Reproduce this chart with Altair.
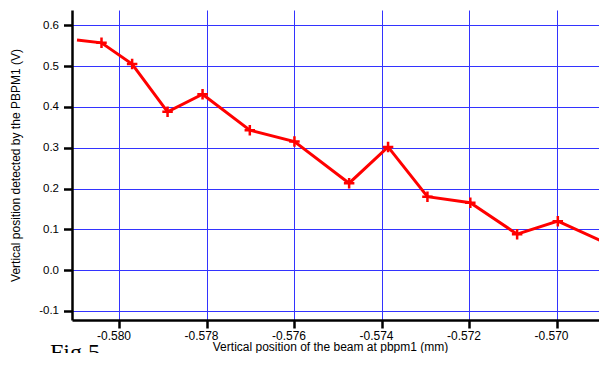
import altair as alt
import pandas as pd

# Data
x_vals = [-0.58096, -0.58040, -0.57970, -0.57889, -0.57809, -0.57701, -0.57599,
          -0.57474, -0.57385, -0.57295, -0.57197, -0.57090, -0.56997, -0.56890]
y_vals = [0.564, 0.557, 0.505, 0.388, 0.431, 0.343, 0.315,
          0.213, 0.302, 0.180, 0.165, 0.088, 0.120, 0.068]
has_marker = [False, True, True, True, True, True, True,
              True, True, True, True, True, True, False]

x_ticks = [-0.580, -0.578, -0.576, -0.574, -0.572, -0.570]
y_ticks = [-0.1, 0.0, 0.1, 0.2, 0.3, 0.4, 0.5, 0.6]

x_title = "Vertical position of the beam at pbpm1 (mm)"
y_title = "Vertical position detected by the PBPM1 (V)"
fig_label = ["Fig 5."]

df = pd.DataFrame({"x": x_vals, "y": y_vals, "m": has_marker})
df_fig = pd.DataFrame({"label": fig_label})

x_scale = alt.Scale(domain=[-0.5810743, -0.5690286], nice=False, zero=False)
y_scale = alt.Scale(domain=[-0.1223, 0.6375], nice=False, zero=False)

x_axis = alt.Axis(values=x_ticks, labelExpr="replace(format(datum.value, '.3f'), '\u2212', '-')",
                  title=x_title, tickSize=8, labelPadding=2, labelOffset=-5.5,
                  labelFontSize=12, titleX=258, titleY=30, titleBaseline="alphabetic")
y_axis = alt.Axis(values=y_ticks, labelExpr="replace(format(datum.value, '.1f'), '\u2212', '-')",
                  title=y_title, tickSize=8.5, labelPadding=5, titlePadding=16,
                  labelFontSize=11.5)

base = alt.Chart(df)

line = base.mark_line(color="#ff0000", strokeWidth=3, clip=True).encode(
    x=alt.X("x:Q", scale=x_scale, axis=x_axis),
    y=alt.Y("y:Q", scale=y_scale, axis=y_axis),
)

points = base.transform_filter("datum.m").mark_point(
    shape="M -1 0 L 1 0 M 0 -1 L 0 1", filled=False, color="#ff0000",
    strokeWidth=2.5, size=110, opacity=1, clip=True
).encode(
    x=alt.X("x:Q", scale=x_scale),
    y=alt.Y("y:Q", scale=y_scale),
)

fig = alt.Chart(df_fig).mark_text(
    font="Liberation Serif", fontSize=24, align="left", baseline="alphabetic", color="black"
).encode(
    x=alt.value(-22), y=alt.value(350), text="label:N"
)

chart = alt.layer(line, points, fig).properties(
    width=527, height=310,
    autosize=alt.AutoSizeParams(type="none"),
    padding={"left": 64, "top": 2, "right": 0, "bottom": 33},
).configure_view(stroke=None).configure_axis(
    domainColor="black", domainWidth=2.5,
    tickColor="black", tickWidth=2.5,
    gridColor="#3333ff", gridWidth=1, gridOpacity=1,
    labelFont="Liberation Sans", labelColor="black",
    titleFont="Liberation Sans", titleFontSize=12, titleFontWeight="normal", titleColor="black",
)

chart.save("out.html", embed_options={"renderer": "svg", "actions": False})
